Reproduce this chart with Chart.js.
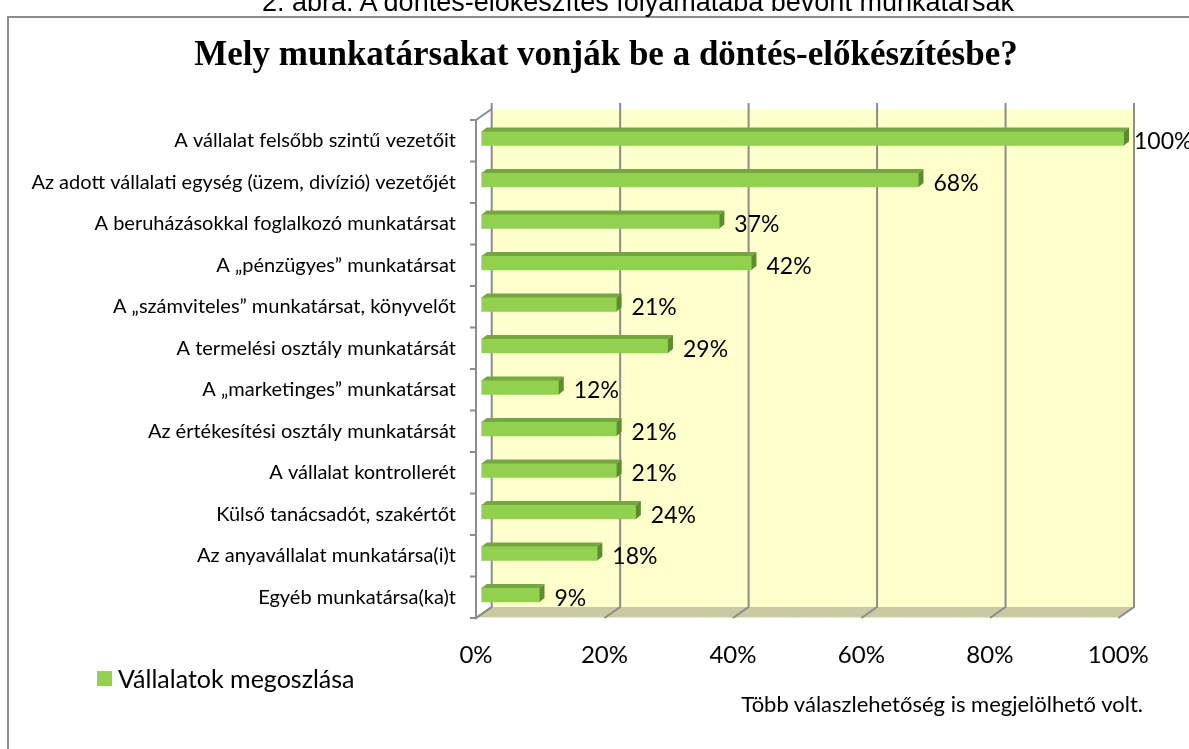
<!DOCTYPE html>
<html><head><meta charset="utf-8">
<script src="https://cdn.jsdelivr.net/npm/chart.js@4.4.0/dist/chart.umd.min.js"></script>
<style>
html,body{margin:0;padding:0;background:#fff;overflow:hidden;}
#wrap{position:relative;width:1189px;height:749px;overflow:hidden;background:#fff;}
#frame{position:absolute;left:7px;top:16px;width:1300px;height:800px;border:2px solid #8c8c8c;box-sizing:border-box;}
#c{position:absolute;left:0;top:0;}
.txt{position:absolute;white-space:nowrap;color:#000;line-height:1;}
#caption{left:0;width:1276px;text-align:center;top:-11px;font-family:"Liberation Sans",Arial,sans-serif;font-size:27px;}
#title{left:0;width:1212px;text-align:center;top:36px;font-family:"Liberation Serif","Times New Roman",serif;font-weight:bold;font-size:35px;}
#legend{left:97px;top:666px;font-family:Lato,sans-serif;font-size:25px;display:flex;align-items:center;}
#legend span.box{display:inline-block;width:15px;height:15px;margin-right:6px;}
#note{right:46px;top:693px;font-family:Lato,sans-serif;font-size:22px;}
</style></head>
<body>
<div id="wrap">
<div id="frame"></div>
<canvas id="c" width="1189" height="749"></canvas>
<div id="caption" class="txt">2. ábra: A döntés-előkészítés folyamatába bevont munkatársak</div>
<div id="title" class="txt">Mely munkatársakat vonják be a döntés-előkészítésbe?</div>
<div id="legend" class="txt"></div>
<div id="note" class="txt">Több válaszlehetőség is megjelölhető volt.</div>
</div>
<script>
const categories = [
  "A vállalat felsőbb szintű vezetőit",
  "Az adott vállalati egység (üzem, divízió) vezetőjét",
  "A beruházásokkal foglalkozó munkatársat",
  "A „pénzügyes” munkatársat",
  "A „számviteles” munkatársat, könyvelőt",
  "A termelési osztály munkatársát",
  "A „marketinges” munkatársat",
  "Az értékesítési osztály munkatársát",
  "A vállalat kontrollerét",
  "Külső tanácsadót, szakértőt",
  "Az anyavállalat munkatársa(i)t",
  "Egyéb munkatársa(ka)t"
];
const values = [100, 68, 37, 42, 21, 29, 12, 21, 21, 24, 18, 9];
const seriesLabel = "Vállalatok megoszlása";
const xTickValues = [0, 20, 40, 60, 80, 100];

const GREEN = '#92d050';
const BAR_DX = 5.7, BAR_DY = -2.3;     // bar plane offset from front plane
const BACK_DX = 15.7, BACK_DY = -11;   // back wall offset from front plane
const FACE_DX = 5, FACE_DY = 4;        // bar depth faces

document.getElementById('legend').innerHTML =
  '<span class="box" style="background:' + GREEN + '"></span>' + seriesLabel;

const wallPlugin = {
  id: 'wall3d',
  beforeDatasetsDraw(chart) {
    const ctx = chart.ctx, xs = chart.scales.x, a = chart.chartArea;
    const xf = v => xs.getPixelForValue(v);
    const xb = v => xs.getPixelForValue(v) + BACK_DX;
    const topB = a.top + BACK_DY, botB = a.bottom + BACK_DY, botF = a.bottom;
    ctx.save();
    ctx.fillStyle = '#ffffcc';
    ctx.fillRect(xb(0), topB, xb(100) - xb(0), botB - topB);
    ctx.fillStyle = '#cbc9a4';
    ctx.beginPath();
    ctx.moveTo(xb(0), botB); ctx.lineTo(xb(100), botB);
    ctx.lineTo(xf(100), botF); ctx.lineTo(xf(0), botF); ctx.closePath();
    ctx.fill();
    ctx.strokeStyle = '#e6e6d8'; ctx.lineWidth = 1;
    ctx.beginPath(); ctx.moveTo(xf(0), botF - 0.5); ctx.lineTo(xf(100), botF - 0.5); ctx.stroke();
    ctx.strokeStyle = '#8c8c8c'; ctx.lineWidth = 2;
    xTickValues.forEach(v => {
      ctx.beginPath();
      ctx.moveTo(xb(v), topB - 6);
      ctx.lineTo(xb(v), botB);
      ctx.lineTo(xf(v), botF);
      ctx.stroke();
    });
    ctx.beginPath();
    ctx.moveTo(xb(0), topB); ctx.lineTo(xf(0), a.top);
    ctx.lineTo(xf(0), a.bottom);
    ctx.lineTo(xb(0), botB);
    ctx.stroke();
    const n = categories.length, step = (a.bottom - a.top) / n;
    for (let i = 0; i <= n; i++) {
      const y = a.top + step * i;
      ctx.beginPath(); ctx.moveTo(xf(0) - 6, y); ctx.lineTo(xf(0), y); ctx.stroke();
    }
    ctx.restore();
    ctx.save();
    ctx.translate(BAR_DX, BAR_DY);
  },
  afterDatasetsDraw(chart) {
    const ctx = chart.ctx;
    const meta = chart.getDatasetMeta(0);
    meta.data.forEach(el => {
      const h = el.height, t = el.y - h / 2, b = el.y + h / 2;
      ctx.fillStyle = '#76a63f';
      ctx.beginPath();
      ctx.moveTo(el.base, t); ctx.lineTo(el.x, t);
      ctx.lineTo(el.x + FACE_DX, t - FACE_DY); ctx.lineTo(el.base + FACE_DX, t - FACE_DY);
      ctx.closePath(); ctx.fill();
      ctx.fillStyle = '#5f8b30';
      ctx.beginPath();
      ctx.moveTo(el.x, t); ctx.lineTo(el.x + FACE_DX, t - FACE_DY);
      ctx.lineTo(el.x + FACE_DX, b - FACE_DY); ctx.lineTo(el.x, b);
      ctx.closePath(); ctx.fill();
    });
    ctx.restore();
    ctx.save();
    ctx.fillStyle = '#000';
    ctx.font = '23px Lato';
    ctx.textBaseline = 'middle';
    ctx.textAlign = 'left';
    meta.data.forEach((el, i) => {
      const gap = values[i] >= 100 ? 10 : 15;
      ctx.fillText(values[i] + '%', el.x + BAR_DX + gap, el.y + 1);
    });
    ctx.restore();
  }
};

new Chart(document.getElementById('c'), {
  type: 'bar',
  data: {
    labels: categories,
    datasets: [{
      label: seriesLabel,
      data: values,
      backgroundColor: GREEN,
      borderWidth: 0,
      barThickness: 14,
      clip: false
    }]
  },
  options: {
    indexAxis: 'y',
    responsive: false,
    animation: false,
    devicePixelRatio: 1,
    layout: { padding: { left: 0, right: 70.7, top: 120, bottom: 71 } },
    plugins: { legend: { display: false }, tooltip: { enabled: false }, title: { display: false } },
    scales: {
      x: {
        min: 0, max: 100,
        afterBuildTicks: s => { s.ticks = xTickValues.map(v => ({ value: v })); },
        afterFit: s => { s.height = 60; },
        grid: { display: false, drawTicks: false },
        border: { display: false },
        ticks: { callback: v => v + '%', color: '#000', font: { family: 'Lato', size: 24 }, padding: 23, maxRotation: 0 }
      },
      y: {
        afterFit: s => { s.width = 476; },
        grid: { display: false, drawTicks: false },
        border: { display: false },
        ticks: { color: '#000', font: { family: 'Lato', size: 20 }, padding: 20, autoSkip: false }
      }
    }
  },
  plugins: [wallPlugin]
});
</script>
</body></html>
